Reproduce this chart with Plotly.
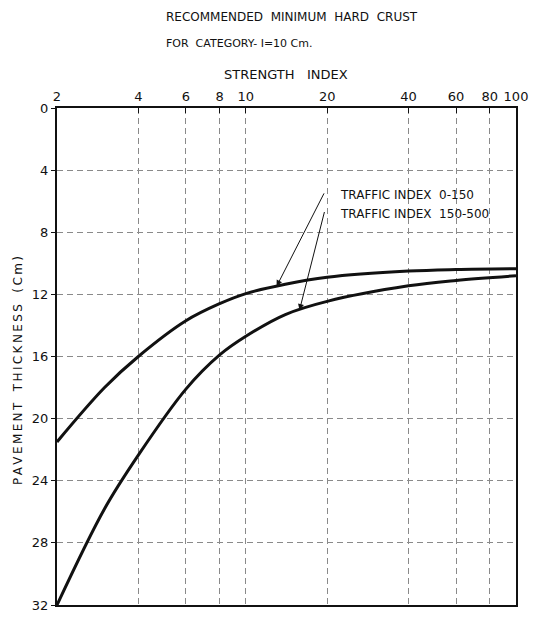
import numpy as np
import plotly.graph_objects as go

# Strength index (log scale) and pavement thickness (cm) for each traffic class
strength_index = [2, 3, 4, 6, 8, 10, 14, 20, 40, 60, 100]
thickness_0_150 = [21.5, 18.0, 16.0, 13.7, 12.6, 11.95, 11.35, 10.9, 10.5, 10.4, 10.35]
thickness_150_500 = [32.0, 25.8, 22.35, 18.1, 15.9, 14.7, 13.3, 12.45, 11.45, 11.1, 10.8]

x_ticks = [2, 4, 6, 8, 10, 20, 40, 60, 80, 100]
y_ticks = [0, 4, 8, 12, 16, 20, 24, 28, 32]

labels = ["TRAFFIC INDEX  0-150", "TRAFFIC INDEX  150-500"]
label_si = [13.0, 15.8]          # where each leader arrow meets its curve
leader_start = [(19.6, 5.4), (19.6, 6.6)]
label_pos = [(22.0, 5.6), (22.0, 6.8)]

FONT = "DejaVu Sans"
INK = "#111111"
THIN = "\u2009"


def spaced(s):
    """Open up the lettering a little, like stencilled drawing text."""
    return THIN.join(s)


fig = go.Figure()
for ys in (thickness_0_150, thickness_150_500):
    fig.add_trace(go.Scatter(
        x=strength_index, y=ys, mode="lines",
        line=dict(color=INK, width=3, shape="spline", smoothing=1.0),
        showlegend=False, hoverinfo="skip"))


def on_curve(si, ys):
    return float(np.interp(np.log10(si), np.log10(strength_index), ys))


for text, si, ys, (sx, sy), (lx, ly) in zip(
        labels, label_si, (thickness_0_150, thickness_150_500),
        leader_start, label_pos):
    fig.add_annotation(
        x=np.log10(si), y=on_curve(si, ys), xref="x", yref="y",
        ax=np.log10(sx), ay=sy, axref="x", ayref="y",
        showarrow=True, arrowhead=2, arrowsize=1.2, arrowwidth=1,
        arrowcolor=INK, text="")
    fig.add_annotation(
        x=np.log10(lx), y=ly, xref="x", yref="y", text=text,
        showarrow=False, xanchor="left", yanchor="middle",
        font=dict(family=FONT, size=12, color=INK))

# Headings above the chart
for txt, ypx, size in [("RECOMMENDED  MINIMUM  HARD  CRUST", 16, 12),
                       ("FOR  CATEGORY- I=10 Cm.", 42, 11)]:
    fig.add_annotation(
        x=(164 - 57) / 461, y=1 + (108 - ypx) / 505,
        xref="paper", yref="paper", text=txt, showarrow=False,
        xanchor="left", yanchor="middle",
        font=dict(family=FONT, size=size, color=INK))

fig.add_annotation(
    x=(287 - 57) / 461, y=1 + (108 - 74) / 505, xref="paper", yref="paper",
    text="STRENGTH   INDEX", showarrow=False, xanchor="center",
    yanchor="middle", font=dict(family=FONT, size=13, color=INK))

fig.add_annotation(
    x=-(57 - 18) / 461, y=1 - (375 - 108) / 505, xref="paper", yref="paper",
    text=spaced("PAVEMENT") + "   " + spaced("THICKNESS") + "   " + spaced("(Cm)"),
    showarrow=False, textangle=-90,
    xanchor="center", yanchor="middle",
    font=dict(family=FONT, size=12, color=INK))

grid = dict(showgrid=True, gridcolor="#8a8a8a", gridwidth=1,
            griddash="6px,4px")

fig.update_xaxes(
    type="log", range=[np.log10(2), 2], side="top",
    tickvals=x_ticks, ticktext=[str(v) for v in x_ticks],
    ticks="inside", ticklen=5, tickcolor=INK,
    tickfont=dict(family=FONT, size=13, color=INK),
    showline=True, linecolor=INK, linewidth=2, mirror=True,
    zeroline=False, **grid)
fig.update_yaxes(
    range=[32, 0], tickvals=y_ticks,
    ticks="outside", ticklen=4, tickcolor=INK,
    tickfont=dict(family=FONT, size=13, color=INK),
    showline=True, linecolor=INK, linewidth=2, mirror=True,
    zeroline=False, **grid)

fig.update_layout(
    width=535, height=620,
    margin=dict(l=57, r=17, t=108, b=7),
    plot_bgcolor="white", paper_bgcolor="white",
    font=dict(family=FONT, color=INK))

fig.write_html("out.html")
